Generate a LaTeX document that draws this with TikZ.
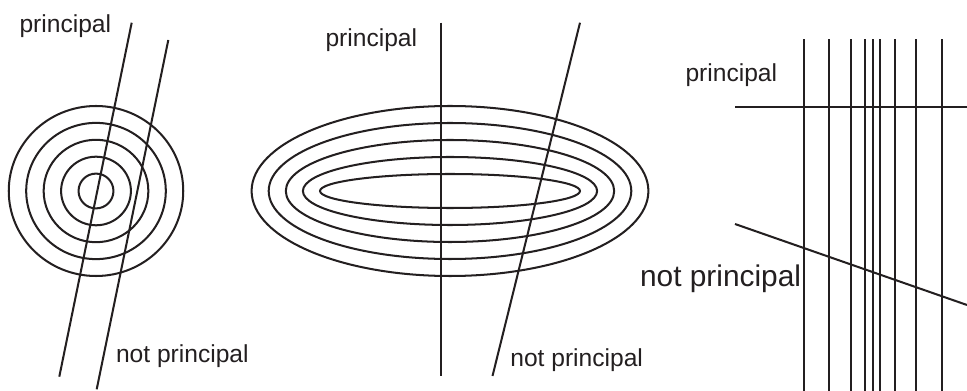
\documentclass[tikz,border=0pt]{standalone}
\usepackage{fontspec}
\setmainfont{Liberation Sans}
\usepackage{tikz}
\usepackage{xcolor}
\usetikzlibrary{calc}
\definecolor{ink}{HTML}{231F20}

\begin{document}
\begin{tikzpicture}[x=0.02cm, y=-0.02cm,
            lC/.style={draw=ink, line width=1.15pt},
            lbl/.style={anchor=base west, inner sep=0pt, text=ink, font=\fontsize{14pt}{16pt}\selectfont},
            lblB/.style={lbl, font=\fontsize{17pt}{20pt}\selectfont}]
            \useasboundingbox (0,0) rectangle (967,391);
            % left: circles
            \coordinate (C1) at (96,191);
            \foreach \k in {0,...,4} {
                \draw[lC] (C1) ellipse [x radius=17.45+17.45*\k, y radius=17.4+16.9*\k];
            }
            \coordinate (LP1) at (131.7,22.7);
            \coordinate (LP2) at (59.3,376.7);
            \coordinate (LN1) at (168.3,40);
            \coordinate (LN2) at (96.7,389.3);
            \draw[lC] (LP1)--(LP2);
            \draw[lC] (LN1)--(LN2);
            \node[lbl] (LPt) at (19.2,32.3) {principal};
            \node[lbl] (LNt) at (115.7,362.3) {not principal};
            % middle: ellipses
            \coordinate (C2) at (450,191);
            \foreach \k in {0,...,4} {
                \draw[lC] (C2) ellipse [x radius=130+17.1*\k, y radius=17+17*\k];
            }
            \coordinate (MP1) at (441,22.7);
            \coordinate (MP2) at (441,376);
            \coordinate (MN1) at (580,22.7);
            \coordinate (MN2) at (492.5,376);
            \draw[lC] (MP1)--(MP2);
            \draw[lC] (MN1)--(MN2);
            \node[lbl] (MPt) at (325.2,46.7) {principal};
            \node[lbl] (MNt) at (510,366.7) {not principal};
            % right: vertical lines
            \foreach \x in {804,829.3,851,865.3,873,880.3,894.7,916,942.3} {
                \draw[lC] (\x,39.3)--(\x,391);
            }
            \coordinate (RP1) at (735,106.7);
            \coordinate (RP2) at (967,106.7);
            \coordinate (RN1) at (735,224);
            \coordinate (RN2) at (967,305);
            \draw[lC] (RP1)--(RP2);
            \draw[lC] (RN1)--(RN2);
            \node[lbl] (RPt) at (685.2,81.7) {principal};
            \node[lblB] (RNt) at (639.7,286.7) {not principal};
        \end{tikzpicture}
\end{document}
